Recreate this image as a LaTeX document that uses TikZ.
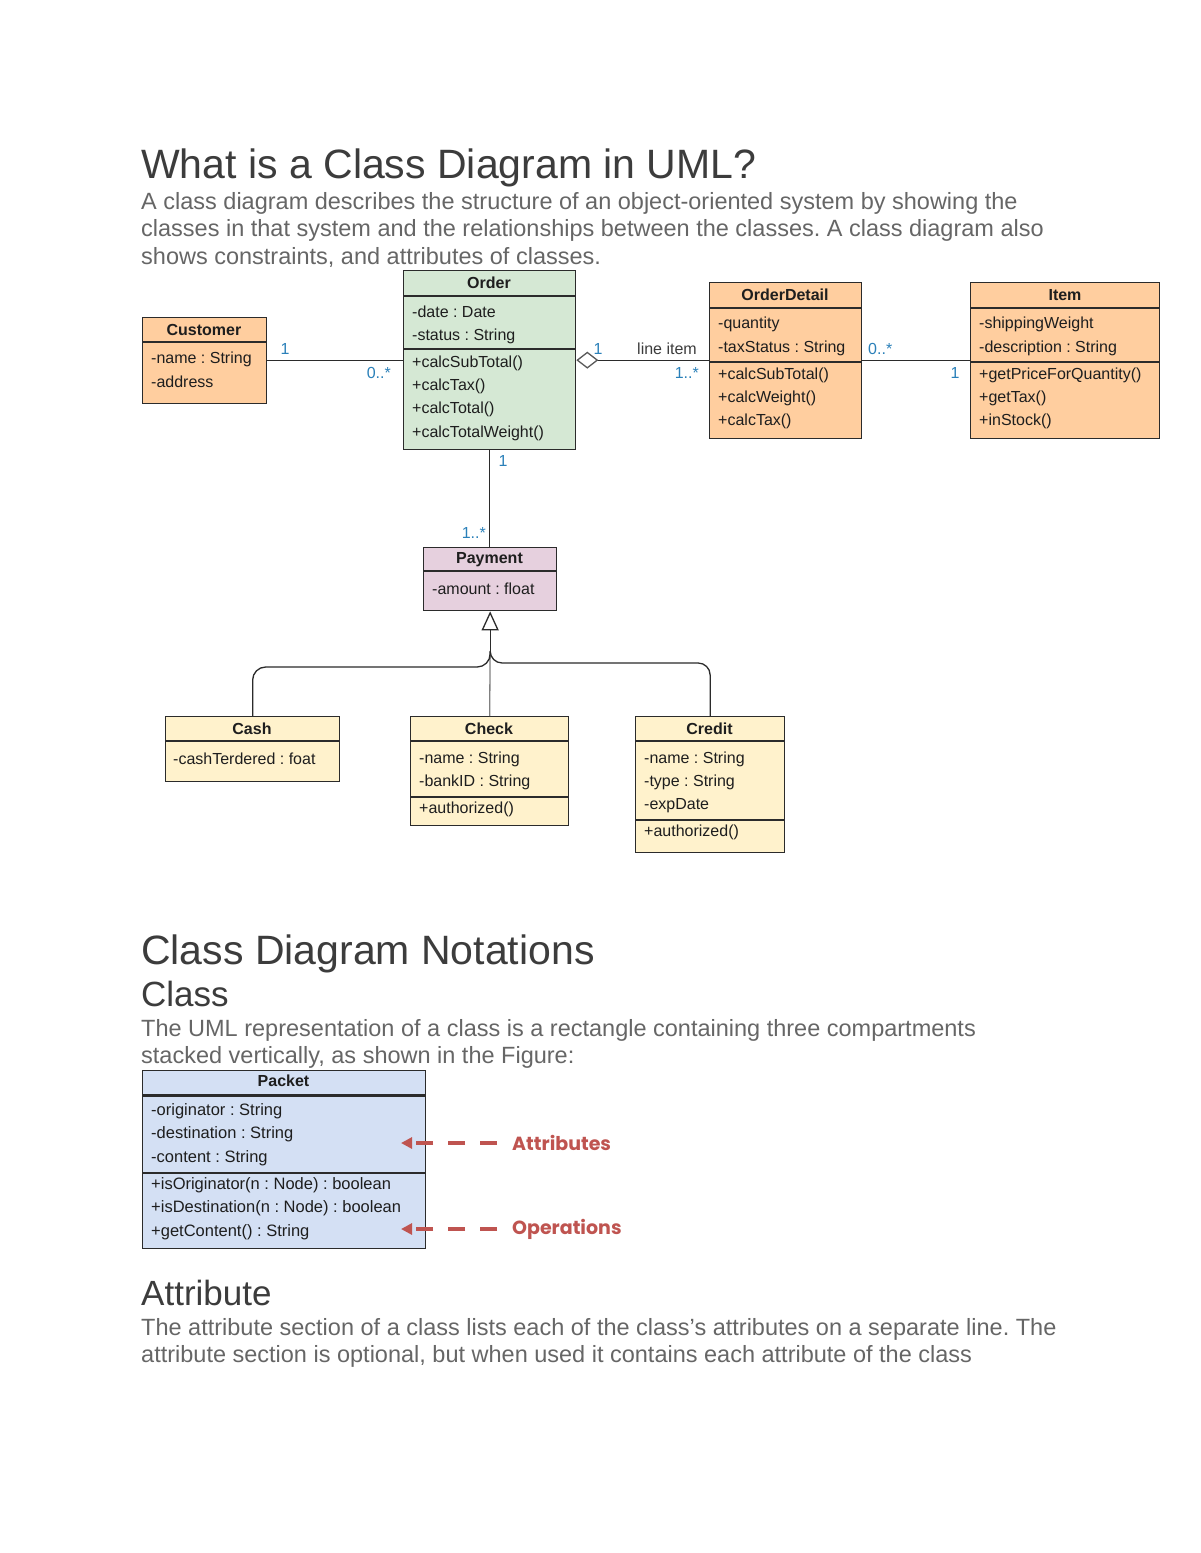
\documentclass[tikz,border=0pt]{standalone}
\usepackage{fontspec}
\setmainfont{Liberation Sans}
\newfontfamily\gothicfont{Poppins}
\usetikzlibrary{arrows.meta,calc}
\definecolor{peach}{HTML}{FFCE9F}
\definecolor{mint}{HTML}{D5E8D4}
\definecolor{lilac}{HTML}{E6D0DE}
\definecolor{cream}{HTML}{FFF2CC}
\definecolor{skyb}{HTML}{D4E0F4}
\definecolor{linec}{HTML}{2B2B2B}
\definecolor{txtc}{HTML}{1E1E1E}
\definecolor{multc}{HTML}{2A80B9}
\definecolor{headc}{HTML}{3C3C3C}
\definecolor{parac}{HTML}{666666}
\definecolor{annotc}{HTML}{BF5450}
\frenchspacing
\tikzset{
  cls/.style={draw=linec, line width=1.3pt, anchor=north west, inner sep=0pt},
  sepl/.style={draw=linec, line width=1.3pt},
  hdr/.style={font=\fontsize{16}{16}\selectfont\bfseries, text=txtc, inner sep=0pt},
  rowt/.style={font=\fontsize{16}{16}\selectfont, text=txtc, anchor=west, inner sep=0pt},
  pkt/.style={font=\fontsize{16.5}{16.5}\selectfont, text=txtc, anchor=west, inner sep=0pt},
  mult/.style={font=\fontsize{16}{16}\selectfont, text=multc, inner sep=0pt},
  conn/.style={draw=linec, line width=1.3pt},
  bigtitle/.style={font=\fontsize{41}{41}\selectfont, text=headc, anchor=base west, inner sep=0pt},
  subtitle/.style={font=\fontsize{35}{35}\selectfont, text=headc, anchor=base west, inner sep=0pt},
  para/.style={font=\fontsize{23.5}{23.5}\selectfont, text=parac, anchor=base west, inner sep=0pt},
  annot/.style={font=\gothicfont\bfseries\fontsize{19}{19}\selectfont, text=annotc, anchor=west, inner sep=0pt},
  annarrow/.style={draw=annotc, line width=3.5pt, dash pattern=on 17pt off 15pt,
     -{Triangle[length=11pt,width=11pt]}}
}
\begin{document}
\begin{tikzpicture}[x=1pt,y=-1pt]
\useasboundingbox (0,0) rectangle (1200,1553);
\fill[white] (0,0) rectangle (1200,1553);

% ---------- texts, top ----------
\node[bigtitle] (title) at (141,178) {What is a Class Diagram in UML?};
\node[para] (p1a) at (141,209) {A class diagram describes the structure of an object-oriented system by showing the};
\node[para] (p1b) at (141,236.5) {classes in that system and the relationships between the classes. A class diagram also};
\node[para] (p1c) at (141,264) {shows constraints, and attributes of classes.};

% ---------- Customer ----------
\node[cls, fill=peach, minimum width=124pt, minimum height=86pt] (customer) at (142,317) {};
\draw[sepl] (142,342) -- (266,342);
\node[hdr] (customer-h) at (204,330) {Customer};
\foreach \t [count=\i] in {{-name : String},{-address}}
  \node[rowt] (customer-a\i) at (151,{359+23*(\i-1)}) {\t};

% ---------- Order ----------
\node[cls, fill=mint, minimum width=172pt, minimum height=179pt] (order) at (403,270) {};
\draw[sepl] (403,296) -- (575,296);
\draw[sepl] (403,349) -- (575,349);
\node[hdr] (order-h) at (489,283) {Order};
\foreach \t [count=\i] in {{-date : Date},{-status : String}}
  \node[rowt] (order-a\i) at (412,{312+24*(\i-1)}) {\t};
\foreach \t [count=\i] in {{+calcSubTotal()},{+calcTax()},{+calcTotal()},{+calcTotalWeight()}}
  \node[rowt] (order-m\i) at (412,{363+23.3*(\i-1)}) {\t};

% ---------- OrderDetail ----------
\node[cls, fill=peach, minimum width=152pt, minimum height=156pt] (detail) at (709,282) {};
\draw[sepl] (709,308) -- (861,308);
\draw[sepl] (709,362) -- (861,362);
\node[hdr] (detail-h) at (785,295) {OrderDetail};
\foreach \t [count=\i] in {{-quantity},{-taxStatus : String}}
  \node[rowt] (detail-a\i) at (718,{324+24*(\i-1)}) {\t};
\foreach \t [count=\i] in {{+calcSubTotal()},{+calcWeight()},{+calcTax()}}
  \node[rowt] (detail-m\i) at (718,{375+23*(\i-1)}) {\t};

% ---------- Item ----------
\node[cls, fill=peach, minimum width=189pt, minimum height=156pt] (item) at (970,282) {};
\draw[sepl] (970,308) -- (1159,308);
\draw[sepl] (970,362) -- (1159,362);
\node[hdr] (item-h) at (1065,295) {Item};
\foreach \t [count=\i] in {{-shippingWeight},{-description : String}}
  \node[rowt] (item-a\i) at (979,{324+24*(\i-1)}) {\t};
\foreach \t [count=\i] in {{+getPriceForQuantity()},{+getTax()},{+inStock()}}
  \node[rowt] (item-m\i) at (979,{375+23*(\i-1)}) {\t};

% ---------- Payment ----------
\node[cls, fill=lilac, minimum width=133pt, minimum height=63pt] (payment) at (423,547) {};
\draw[sepl] (423,571) -- (556,571);
\node[hdr] (payment-h) at (489.5,559.5) {Payment};
\node[rowt] (payment-a1) at (432,589) {-amount : float};

% ---------- Cash ----------
\node[cls, fill=cream, minimum width=174pt, minimum height=65pt] (cash) at (165,716) {};
\draw[sepl] (165,741) -- (339,741);
\node[hdr] (cash-h) at (252,729) {Cash};
\node[rowt] (cash-a1) at (173,759) {-cashTerdered : foat};

% ---------- Check ----------
\node[cls, fill=cream, minimum width=158pt, minimum height=109pt] (check) at (410,716) {};
\draw[sepl] (410,741) -- (568,741);
\draw[sepl, line width=2.6pt] (410,797) -- (568,797);
\node[hdr] (check-h) at (489,729) {Check};
\foreach \t [count=\i] in {{-name : String},{-bankID : String}}
  \node[rowt] (check-a\i) at (419,{759+23*(\i-1)}) {\t};
\node[rowt] (check-m1) at (419,809) {+authorized()};

% ---------- Credit ----------
\node[cls, fill=cream, minimum width=149pt, minimum height=136pt] (credit) at (635,716) {};
\draw[sepl] (635,741) -- (784,741);
\draw[sepl] (635,820) -- (784,820);
\node[hdr] (credit-h) at (709.5,729) {Credit};
\foreach \t [count=\i] in {{-name : String},{-type : String},{-expDate}}
  \node[rowt] (credit-a\i) at (644,{759+23.5*(\i-1)}) {\t};
\node[rowt] (credit-m1) at (644,832) {+authorized()};

% ---------- associations ----------
\draw[conn] (customer.east) -- (customer.east -| order.west);
\node[mult] (m-c1) at (285,349) {1};
\node[mult, anchor=east] (m-c2) at (391,373) {0..*};

\draw[conn, {Diamond[open, length=22pt, width=17pt, line width=1.3pt, color=black!65]}-] (order.east) -- (order.east -| detail.west);
\node[mult] (m-o1) at (598,349) {1};
\node[font=\fontsize{16}{16}\selectfont, text=headc, inner sep=0pt] (lineitem) at (667,349) {line item};
\node[mult, anchor=east] (m-o2) at (699,373) {1..*};

\draw[conn] (detail.east) -- (detail.east -| item.west);
\node[mult, anchor=west] (m-d1) at (868,349) {0..*};
\node[mult] (m-d2) at (955,373) {1};

\draw[conn] (order.south) -- (order.south |- payment.north);
\node[mult] (m-p1) at (503,461) {1};
\node[mult, anchor=east] (m-p2) at (486,533) {1..*};

% ---------- generalization ----------
\coordinate (gj) at ($(payment.south)+(0,40)$);
\draw[draw=black!50, line width=1.3pt] (check.north) -- (gj);
\draw[conn, -{Triangle[open, length=19pt, width=17pt, line width=1.3pt]}] (gj) -- (payment.south);
\draw[conn, rounded corners=13pt] (cash.north) -- ++(0,-49) -| (gj);
\draw[conn, rounded corners=12pt] (credit.north) -- ++(0,-53) -| (gj);

% ---------- texts, bottom ----------
\node[bigtitle] (title2) at (141,964) {Class Diagram Notations};
\node[subtitle] (sub1) at (141,1006) {Class};
\node[para] (p2a) at (141,1036) {The UML representation of a class is a rectangle containing three compartments};
\node[para] (p2b) at (141,1063) {stacked vertically, as shown in the Figure:};

% ---------- Packet ----------
\node[cls, fill=skyb, minimum width=283pt, minimum height=178pt] (packet) at (142,1070) {};
\draw[sepl, line width=3pt] (142,1095) -- (425,1095);
\draw[sepl] (142,1173) -- (425,1173);
\node[hdr] (packet-h) at (283.5,1081) {Packet};
\foreach \t [count=\i] in {{-originator : String},{-destination : String},{-content : String}}
  \node[pkt] (packet-a\i) at (151,{1111+23.5*(\i-1)}) {\t};
\foreach \t [count=\i] in {{+isOriginator(n : Node) : boolean},{+isDestination(n : Node) : boolean},{+getContent() : String}}
  \node[pkt] (packet-m\i) at (151,{1185+23.5*(\i-1)}) {\t};

\node[annot] (lab-attr) at (512,1143) {Attributes};
\node[annot] (lab-oper) at (512,1229) {Operations};
\coordinate (tip-attr) at (401,1143);
\coordinate (tip-oper) at (401,1229);
\draw[annarrow] ($(lab-attr.west)+(-15,0)$) -- (tip-attr);
\draw[annarrow] ($(lab-oper.west)+(-15,0)$) -- (tip-oper);

\node[subtitle] (sub2) at (141,1305) {Attribute};
\node[para] (p3a) at (141,1335) {The attribute section of a class lists each of the class's attributes on a separate line. The};
\node[para] (p3b) at (141,1362) {attribute section is optional, but when used it contains each attribute of the class};
\end{tikzpicture}
\end{document}
